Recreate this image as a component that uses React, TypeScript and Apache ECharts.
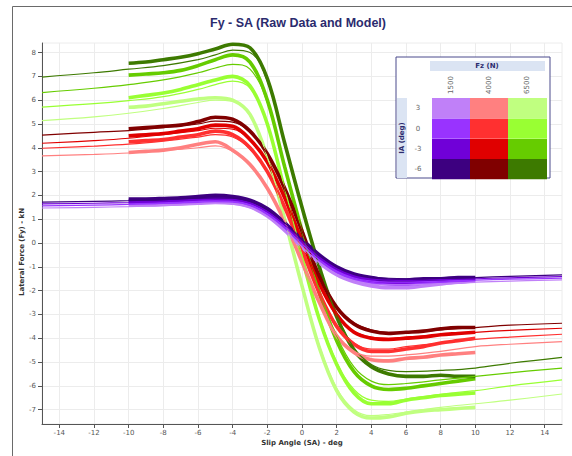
import React, { useEffect, useRef } from "react";
import * as echarts from "echarts";

const rawSA = [-10, -9, -8, -7, -6, -5, -4, -3, -2, -1, 0, 1, 2, 3, 4, 5, 6, 7, 8, 9, 10];
const modelSA = [-15, -12, -10, -8, -6, -5, -4, -3, -2, -1, 0, 1, 2, 3, 4, 5, 6, 8, 10, 12, 15];

const fzLevels = ["1500", "4000", "6500"];
const iaLevels = ["3", "0", "-3", "-6"];
const xTicks = [-14, -12, -10, -8, -6, -4, -2, 0, 2, 4, 6, 8, 10, 12, 14];
const yTicks = [-7, -6, -5, -4, -3, -2, -1, 0, 1, 2, 3, 4, 5, 6, 7, 8];

// colours per Fz, ordered IA 3, 0, -3, -6
const purpleColors = ["#c080f8", "#9933ff", "#7000d8", "#3d0080"];
const redColors = ["#ff8080", "#ff3030", "#e00000", "#800000"];
const greenColors = ["#c0ff80", "#99ff33", "#66cc00", "#3d7a00"];

// ---- Fz 6500 (green) ----
const rawG3 = [5.7, 5.75, 5.85, 5.95, 6.05, 6.1, 6.0, 5.4, 3.6, 1.0, -1.8, -4.4, -6.2, -7.1, -7.35, -7.3, -7.15, -7.05, -7.0, -6.95, -6.9];
const modG3 = [5.14, 5.3, 5.45, 5.65, 5.9, 6.0, 5.95, 5.35, 3.6, 1.0, -1.8, -4.3, -6.1, -7.0, -7.25, -7.2, -7.1, -6.9, -6.75, -6.6, -6.34];
const rawG0 = [6.1, 6.2, 6.3, 6.45, 6.65, 6.85, 7.0, 6.6, 5.0, 2.2, -0.6, -3.2, -5.1, -6.3, -6.75, -6.75, -6.6, -6.5, -6.4, -6.35, -6.3];
const modG0 = [5.71, 5.85, 5.98, 6.15, 6.45, 6.65, 6.8, 6.5, 5.0, 2.3, -0.5, -3.1, -5.0, -6.15, -6.6, -6.65, -6.55, -6.35, -6.2, -6.0, -5.75];
const rawGm3 = [7.05, 7.1, 7.15, 7.25, 7.45, 7.7, 7.9, 7.6, 6.0, 3.2, 0.5, -2.1, -4.1, -5.4, -6.0, -6.15, -6.1, -6.0, -5.9, -5.8, -5.7];
const modGm3 = [6.32, 6.5, 6.65, 6.85, 7.15, 7.35, 7.5, 7.3, 5.9, 3.2, 0.5, -2.0, -3.9, -5.2, -5.8, -5.95, -5.9, -5.75, -5.6, -5.45, -5.25];
const rawGm6 = [7.55, 7.6, 7.7, 7.8, 7.95, 8.15, 8.35, 8.2, 6.9, 4.2, 1.5, -1.0, -3.1, -4.5, -5.2, -5.5, -5.6, -5.6, -5.55, -5.6, -5.6];
const modGm6 = [6.97, 7.15, 7.3, 7.45, 7.7, 7.9, 8.1, 8.0, 6.8, 4.2, 1.5, -1.0, -3.0, -4.4, -5.1, -5.35, -5.4, -5.35, -5.25, -5.05, -4.8];

// ---- Fz 4000 (red) ----
const rawR3 = [3.8, 3.85, 3.9, 4.0, 4.15, 4.25, 3.9, 3.3, 2.3, 0.9, -0.8, -2.5, -3.9, -4.6, -4.9, -4.95, -4.85, -4.8, -4.7, -4.65, -4.6];
const modR3 = [3.66, 3.72, 3.78, 3.88, 4.0, 4.08, 3.85, 3.3, 2.3, 0.9, -0.8, -2.5, -3.85, -4.55, -4.75, -4.75, -4.7, -4.55, -4.35, -4.25, -4.14];
const rawR0 = [4.25, 4.3, 4.35, 4.45, 4.55, 4.7, 4.55, 4.0, 3.0, 1.5, -0.3, -2.1, -3.5, -4.25, -4.55, -4.55, -4.45, -4.35, -4.2, -4.1, -4.0];
const modR0 = [3.98, 4.07, 4.15, 4.28, 4.45, 4.55, 4.45, 3.95, 3.0, 1.5, -0.3, -2.05, -3.45, -4.2, -4.45, -4.45, -4.35, -4.2, -4.05, -3.95, -3.83];
const rawRm3 = [4.5, 4.55, 4.6, 4.7, 4.8, 4.95, 4.9, 4.35, 3.4, 1.9, 0.1, -1.7, -3.0, -3.75, -4.0, -4.05, -4.0, -3.95, -3.85, -3.8, -3.75];
const modRm3 = [4.19, 4.3, 4.4, 4.55, 4.72, 4.82, 4.78, 4.3, 3.4, 1.9, 0.1, -1.7, -2.95, -3.7, -3.95, -4.0, -3.95, -3.85, -3.75, -3.67, -3.58];
const rawRm6 = [4.8, 4.85, 4.9, 4.95, 5.1, 5.28, 5.2, 4.7, 3.75, 2.3, 0.5, -1.4, -2.7, -3.4, -3.7, -3.8, -3.75, -3.7, -3.6, -3.55, -3.55];
const modRm6 = [4.53, 4.65, 4.72, 4.85, 5.0, 5.12, 5.08, 4.65, 3.75, 2.3, 0.5, -1.35, -2.65, -3.35, -3.65, -3.75, -3.75, -3.65, -3.55, -3.45, -3.37];

// ---- Fz 1500 (purple) ----
const rawP3 = [1.6, 1.6, 1.62, 1.65, 1.7, 1.72, 1.68, 1.52, 1.13, 0.53, -0.17, -0.83, -1.33, -1.63, -1.8, -1.88, -1.88, -1.8, -1.72, -1.65, -1.6];
const modP3 = [1.47, 1.5, 1.53, 1.57, 1.62, 1.65, 1.62, 1.48, 1.12, 0.55, -0.16, -0.82, -1.3, -1.58, -1.72, -1.76, -1.76, -1.7, -1.64, -1.6, -1.55];
const rawP0 = [1.7, 1.7, 1.72, 1.75, 1.8, 1.83, 1.8, 1.63, 1.25, 0.65, -0.05, -0.7, -1.2, -1.5, -1.65, -1.72, -1.73, -1.68, -1.62, -1.57, -1.55];
const modP0 = [1.56, 1.59, 1.62, 1.66, 1.71, 1.74, 1.72, 1.59, 1.24, 0.67, -0.04, -0.7, -1.18, -1.47, -1.6, -1.64, -1.64, -1.6, -1.56, -1.52, -1.48];
const rawPm3 = [1.78, 1.78, 1.8, 1.83, 1.88, 1.92, 1.88, 1.72, 1.35, 0.75, 0.05, -0.6, -1.1, -1.4, -1.55, -1.62, -1.63, -1.58, -1.55, -1.5, -1.5];
const modPm3 = [1.64, 1.67, 1.7, 1.74, 1.8, 1.82, 1.8, 1.67, 1.32, 0.76, 0.06, -0.6, -1.08, -1.38, -1.52, -1.56, -1.57, -1.54, -1.5, -1.46, -1.41];
const rawPm6 = [1.85, 1.85, 1.87, 1.9, 1.95, 2.0, 1.95, 1.8, 1.45, 0.85, 0.15, -0.5, -1.0, -1.3, -1.45, -1.55, -1.55, -1.5, -1.5, -1.45, -1.45];
const modPm6 = [1.72, 1.75, 1.78, 1.82, 1.88, 1.9, 1.88, 1.75, 1.4, 0.85, 0.15, -0.5, -0.98, -1.28, -1.42, -1.48, -1.5, -1.48, -1.45, -1.4, -1.34];

const groups = [
  { colors: greenColors, raw: [rawG3, rawG0, rawGm3, rawGm6], mod: [modG3, modG0, modGm3, modGm6], fz: "6500" },
  { colors: redColors, raw: [rawR3, rawR0, rawRm3, rawRm6], mod: [modR3, modR0, modRm3, modRm6], fz: "4000" },
  { colors: purpleColors, raw: [rawP3, rawP0, rawPm3, rawPm6], mod: [modP3, modP0, modPm3, modPm6], fz: "1500" },
];

const FONT = '"DejaVu Sans", Verdana, sans-serif';
const NAVY = "#2b2b6e";

function buildSeries() {
  const s: any[] = [];
  groups.forEach((g) => {
    g.raw.forEach((arr, i) => {
      s.push({
        name: `raw ${g.fz} IA ${iaLevels[i]}`,
        type: "line",
        data: rawSA.map((x, k) => [x, arr[k]]),
        showSymbol: false,
        smooth: 0.35,
        lineStyle: { color: g.colors[i], width: 3.6 },
        itemStyle: { color: g.colors[i] },
        z: 2,
      });
    });
    g.mod.forEach((arr, i) => {
      s.push({
        name: `model ${g.fz} IA ${iaLevels[i]}`,
        type: "line",
        data: modelSA.map((x, k) => [x, arr[k]]),
        showSymbol: false,
        smooth: 0.4,
        lineStyle: { color: g.colors[i], width: 1.2 },
        itemStyle: { color: g.colors[i] },
        z: 3,
      });
    });
  });
  return s;
}

function buildLegend() {
  const els: any[] = [];
  const bx = 396, by = 57, bw = 154, bh = 121;
  els.push({ type: "rect", shape: { x: bx, y: by, width: bw, height: bh }, style: { fill: "#ffffff", stroke: "#4a4a8c", lineWidth: 1 }, z: 100 });
  els.push({ type: "rect", shape: { x: 430, y: 61, width: 115, height: 10 }, style: { fill: "#dbe4f3" }, z: 101 });
  els.push({ type: "text", x: 487, y: 66, style: { text: "Fz (N)", fill: NAVY, font: `bold 7px ${FONT}`, align: "center", verticalAlign: "middle" }, z: 102 });
  els.push({ type: "rect", shape: { x: 397, y: 98, width: 10, height: 80 }, style: { fill: "#dbe4f3" }, z: 101 });
  els.push({ type: "text", x: 402, y: 138, rotation: Math.PI / 2, style: { text: "IA (deg)", fill: NAVY, font: `bold 7px ${FONT}`, align: "center", verticalAlign: "middle" }, z: 102 });
  const colX = [432, 470, 508];
  const colW = 38;
  const rowY = [98, 118.5, 139, 159];
  const rowH = 20.25;
  const cols = [purpleColors, redColors, greenColors];
  fzLevels.forEach((fz, c) => {
    els.push({ type: "text", x: colX[c] + colW / 2, y: 85, rotation: Math.PI / 2, style: { text: fz, fill: "#666", font: `7px ${FONT}`, align: "center", verticalAlign: "middle" }, z: 102 });
    iaLevels.forEach((ia, r) => {
      els.push({ type: "rect", shape: { x: colX[c], y: rowY[r], width: colW + (c === 2 ? 1 : 0), height: rowH }, style: { fill: cols[c][r] }, z: 101 });
    });
  });
  iaLevels.forEach((ia, r) => {
    els.push({ type: "text", x: 418, y: rowY[r] + rowH / 2, style: { text: ia, fill: "#666", font: `7px ${FONT}`, align: "center", verticalAlign: "middle" }, z: 102 });
  });
  return els;
}

export default function App() {
  const ref = useRef<HTMLDivElement>(null);
  useEffect(() => {
    document.body.style.margin = "0";
    const chart = echarts.init(ref.current!, null, { renderer: "svg" });
    chart.setOption({
      animation: false,
      backgroundColor: "#ffffff",
      grid: { left: 42, right: 10, top: 43, bottom: 32, show: true, borderColor: "#ececec", borderWidth: 1 },
      xAxis: {
        type: "value",
        min: -15,
        max: 15,
        axisLine: { show: true, onZero: false, lineStyle: { color: "#555", width: 1 } },
        axisTick: { show: true, customValues: xTicks, length: 4, lineStyle: { color: "#555" } },
        axisLabel: { customValues: xTicks, color: "#555", fontSize: 7, fontFamily: FONT, margin: 5 },
        splitLine: { show: true, lineStyle: { color: "#ececec", width: 1 } },
      },
      yAxis: {
        type: "value",
        min: -7.6,
        max: 8.4,
        axisLine: { show: true, onZero: false, lineStyle: { color: "#555", width: 1 } },
        axisTick: { show: true, customValues: yTicks, length: 4, lineStyle: { color: "#555" } },
        axisLabel: { customValues: yTicks, color: "#555", fontSize: 7, fontFamily: FONT, margin: 6 },
        splitLine: { show: true, lineStyle: { color: "#ececec", width: 1 } },
      },
      title: {
        text: "Fy - SA (Raw Data and Model)",
        left: 293,
        top: 11,
        textAlign: "center",
        textStyle: { color: NAVY, fontSize: 12.5, fontWeight: "bold", fontFamily: '"Liberation Sans", Arial, sans-serif' },
      },
      graphic: [
        { type: "line", shape: { x1: 12.5, y1: 6.5, x2: 572, y2: 6.5 }, style: { stroke: "#6a6a6a", lineWidth: 1 } },
        { type: "line", shape: { x1: 12.5, y1: 6.5, x2: 12.5, y2: 456 }, style: { stroke: "#6a6a6a", lineWidth: 1 } },
        { type: "text", x: 302, y: 443, style: { text: "Slip Angle (SA) - deg", fill: "#333", font: `bold 7px ${FONT}`, align: "center", verticalAlign: "middle" } },
        { type: "text", x: 22, y: 252, rotation: Math.PI / 2, style: { text: "Lateral Force (Fy) - kN", fill: "#333", font: `bold 7px ${FONT}`, align: "center", verticalAlign: "middle" } },
        ...buildLegend(),
      ],
      series: buildSeries(),
    });
    return () => chart.dispose();
  }, []);
  return <div ref={ref} style={{ position: "fixed", left: 0, top: 0, width: 572, height: 456 }} />;
}
